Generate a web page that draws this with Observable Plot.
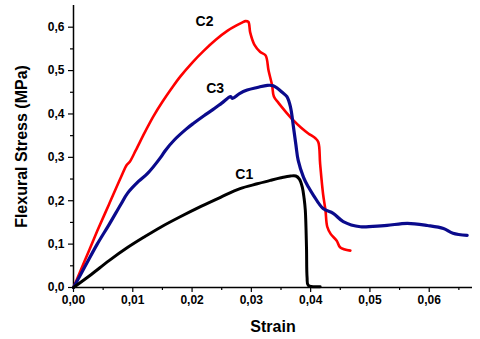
<!DOCTYPE html>
<html>
<head>
<meta charset="utf-8">
<script src="https://cdn.jsdelivr.net/npm/d3@7"></script>
<script src="https://cdn.jsdelivr.net/npm/@observablehq/plot@0.6"></script>
<style>
  html, body { margin: 0; padding: 0; background: #fff; }
  svg { overflow: visible; }
</style>
</head>
<body>
<div id="chart"></div>
<script>
// C1 (black)
const c1Strain = [0, 0.003, 0.006, 0.0091, 0.012, 0.0147, 0.018, 0.0215, 0.0248, 0.0281, 0.031, 0.0332, 0.035, 0.0366, 0.0375, 0.0381, 0.0386, 0.0389, 0.0391, 0.0393, 0.0394, 0.0396, 0.0416];
const c1Stress = [0, 0.030, 0.062, 0.092, 0.117, 0.139, 0.163, 0.187, 0.208, 0.228, 0.239, 0.247, 0.253, 0.257, 0.257, 0.250, 0.231, 0.205, 0.178, 0.092, 0.023, 0.005, 0.002];
// C2 (red)
const c2Strain = [0, 0.002, 0.004, 0.006, 0.008, 0.009, 0.0095, 0.0105, 0.012, 0.0135, 0.015, 0.0165, 0.018, 0.020, 0.022, 0.024, 0.026, 0.0275, 0.0285, 0.029, 0.0295, 0.0298, 0.0305, 0.0315, 0.0324, 0.0329, 0.0335, 0.0338, 0.0346, 0.0358, 0.0371, 0.0384, 0.0396, 0.0408, 0.0413, 0.0416, 0.0421, 0.0425, 0.0428, 0.0434, 0.0444, 0.045, 0.0467];
const c2Stress = [0, 0.065, 0.130, 0.192, 0.254, 0.283, 0.290, 0.316, 0.357, 0.395, 0.428, 0.458, 0.486, 0.518, 0.546, 0.571, 0.592, 0.604, 0.611, 0.614, 0.612, 0.588, 0.560, 0.543, 0.535, 0.500, 0.466, 0.440, 0.425, 0.405, 0.385, 0.368, 0.355, 0.344, 0.335, 0.285, 0.215, 0.178, 0.140, 0.123, 0.108, 0.092, 0.085];
// C3 (blue)
const c3Strain = [0, 0.002, 0.004, 0.006, 0.008, 0.0091, 0.011, 0.0125, 0.0147, 0.0155, 0.017, 0.019, 0.0202, 0.022, 0.0235, 0.025, 0.0265, 0.0268, 0.028, 0.0293, 0.031, 0.0327, 0.0337, 0.0345, 0.0352, 0.036, 0.0366, 0.0371, 0.0375, 0.0379, 0.0388, 0.0396, 0.0405, 0.0421, 0.0438, 0.0455, 0.0484, 0.0505, 0.0529, 0.0563, 0.0597, 0.0624, 0.064, 0.0664];
const c3Stress = [0, 0.050, 0.100, 0.145, 0.192, 0.217, 0.245, 0.263, 0.300, 0.316, 0.340, 0.365, 0.378, 0.396, 0.410, 0.425, 0.440, 0.436, 0.447, 0.455, 0.461, 0.466, 0.465, 0.458, 0.450, 0.440, 0.416, 0.370, 0.330, 0.293, 0.254, 0.232, 0.212, 0.182, 0.171, 0.152, 0.140, 0.141, 0.143, 0.148, 0.143, 0.136, 0.125, 0.120];

const curveNames = ["C1", "C2", "C3"];
const labelStrain = [0.0288, 0.0221, 0.0239];
const labelStress = [0.261, 0.612, 0.459];

const xTicks = [0, 0.01, 0.02, 0.03, 0.04, 0.05, 0.06];
const xMinor = [0.005, 0.015, 0.025, 0.035, 0.045, 0.055, 0.065];
const yTicks = [0, 0.1, 0.2, 0.3, 0.4, 0.5, 0.6];
const yMinor = [0.05, 0.15, 0.25, 0.35, 0.45, 0.55];

const comma = (d, n) => d.toFixed(n).replace(".", ",");

const chart = Plot.plot({
  width: 480,
  height: 339,
  marginLeft: 73,
  marginRight: 8,
  marginTop: 5,
  marginBottom: 52,
  style: { fontFamily: "'Liberation Sans', Arial, sans-serif", fontSize: "12px", fontWeight: "bold", background: "#fff" },
  x: { domain: [0, 0.0673] },
  y: { domain: [0, 0.65] },
  marks: [
    Plot.axisX({ ticks: xTicks, tickFormat: d => comma(d, 2), tickSize: 5, tickPadding: 3, strokeWidth: 1.2,
      label: "Strain", labelAnchor: "center", labelArrow: "none", labelOffset: 44, fontSize: 12 }),
    Plot.axisX({ ticks: xMinor, tickFormat: () => "", tickSize: 3, label: null, strokeWidth: 1.2 }),
    Plot.axisY({ ticks: yTicks, tickFormat: d => comma(d, 1), tickSize: 5, tickPadding: 4, strokeWidth: 1.2,
      label: "Flexural Stress (MPa)", labelAnchor: "center", labelArrow: "none", labelOffset: 58 }),
    Plot.axisY({ ticks: yMinor, tickFormat: () => "", tickSize: 3, label: null, strokeWidth: 1.2 }),
    Plot.ruleY([0], { stroke: "#000", strokeWidth: 1.5 }),
    Plot.ruleX([0], { stroke: "#000", strokeWidth: 1.5 }),
    Plot.line(c2Stress, { x: c2Strain, y: c2Stress, stroke: "#ff0000", strokeWidth: 2.6, curve: "catmull-rom" }),
    Plot.line(c3Stress, { x: c3Strain, y: c3Stress, stroke: "#0a0a8c", strokeWidth: 3.2, curve: "catmull-rom" }),
    Plot.line(c1Stress, { x: c1Strain, y: c1Stress, stroke: "#000000", strokeWidth: 3, curve: "catmull-rom" }),
    Plot.text(curveNames, { x: labelStrain, y: labelStress, text: curveNames, fontSize: 14, fontWeight: "bold", fill: "#000" })
  ]
});
chart.querySelectorAll("[aria-label='x-axis label'] text, [aria-label='y-axis label'] text").forEach(t => t.setAttribute("font-size", "16"));
document.getElementById("chart").appendChild(chart);
</script>
</body>
</html>
